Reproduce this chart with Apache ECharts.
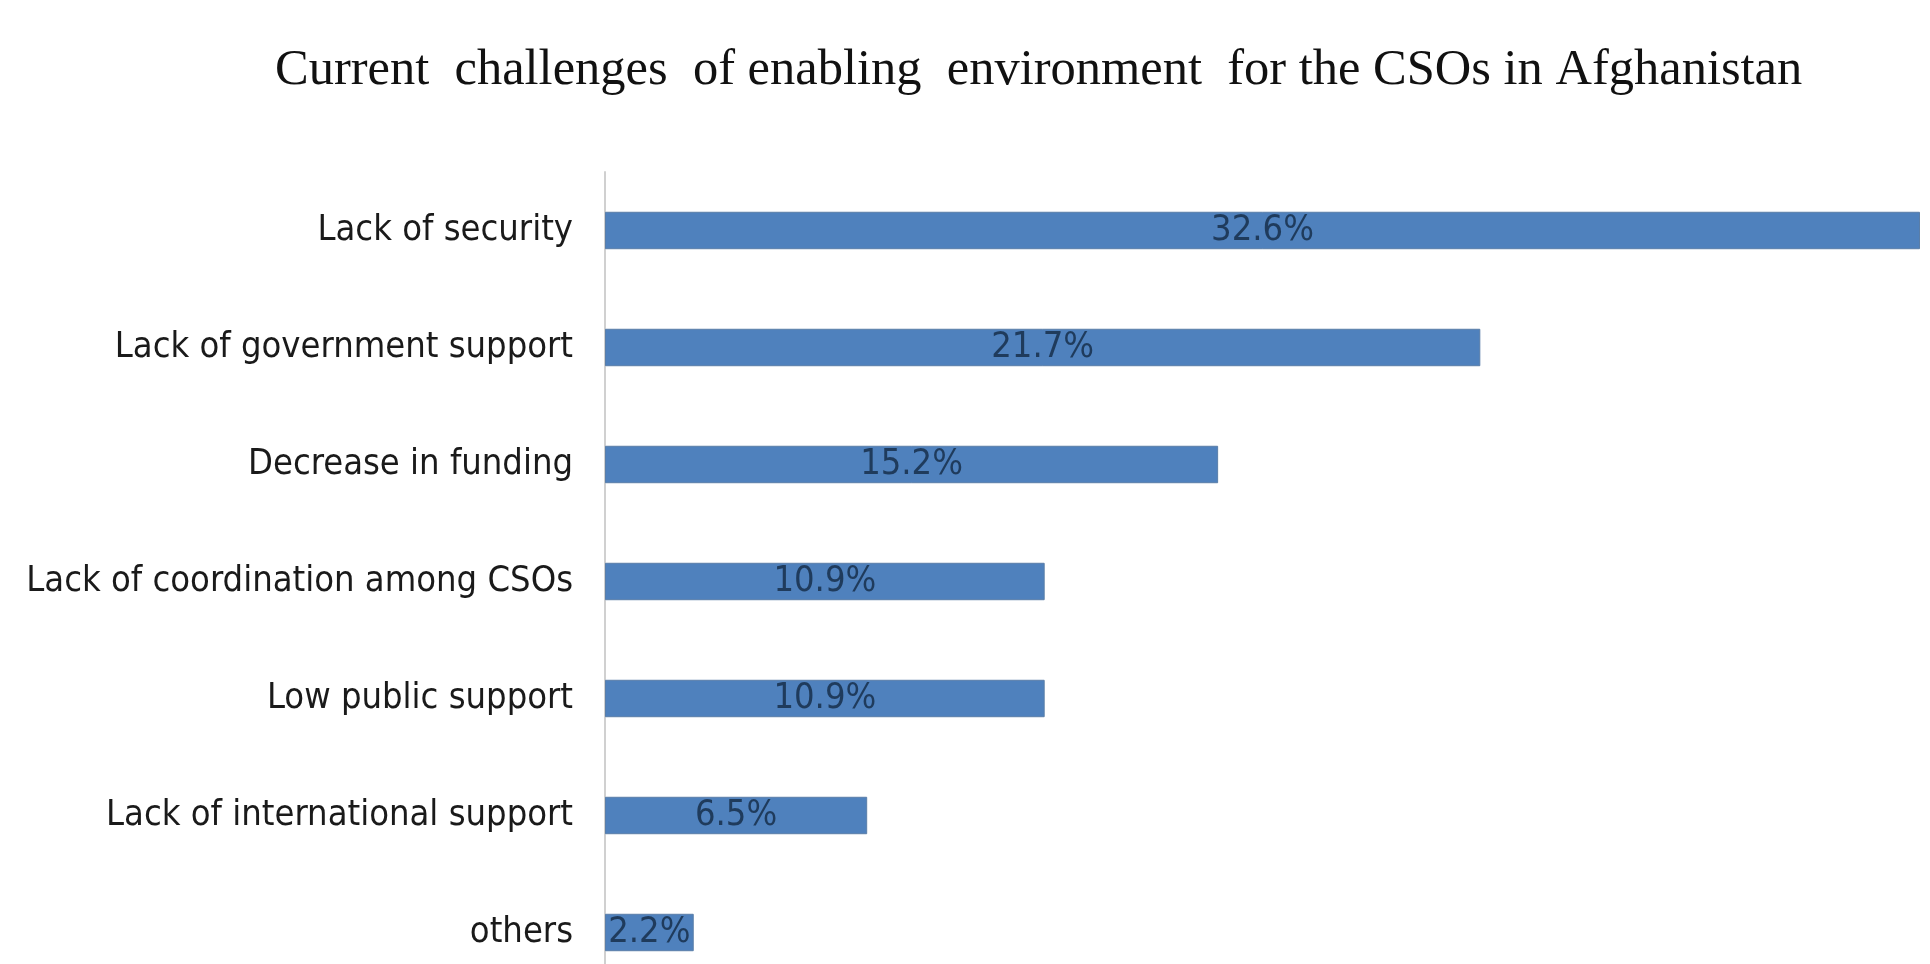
<!DOCTYPE html>
<html>
<head>
<meta charset="utf-8">
<script src="https://cdn.jsdelivr.net/npm/echarts@6/dist/echarts.min.js"></script>
<style>html,body{margin:0;padding:0;background:#fff;overflow:hidden;width:1930px;height:964px}#chart{width:1930px;height:991px}</style>
</head>
<body>
<div id="chart"></div>
<script>
const titleText = 'Current  challenges  of enabling  environment  for the CSOs in Afghanistan';
const categories = ['Lack of security','Lack of government support','Decrease in funding','Lack of coordination among CSOs','Low public support','Lack of international support','others'];
const values = [32.6, 21.7, 15.2, 10.9, 10.9, 6.5, 2.2];

const chart = echarts.init(document.getElementById('chart'));
chart.setOption({
  backgroundColor: '#ffffff',
  animation: false,
  title: {
    text: titleText,
    left: 270,
    top: 40,
    textStyle: {fontFamily: '"Liberation Serif", "DejaVu Serif", serif', fontWeight: 'normal', fontSize: 50.5, color: '#111'}
  },
  grid: {left: 605, top: 172, right: 10, bottom: 0, containLabel: false},
  xAxis: {type: 'value', min: 0, max: 32.6, show: false},
  yAxis: {
    type: 'category', data: categories, inverse: true,
    axisLine: {show: true, lineStyle: {color: '#d0d0d0', width: 2}},
    axisTick: {show: false},
    axisLabel: {margin: 32, color: '#1a1a1a', fontSize: 36, fontFamily: '"Liberation Sans Narrow", "DejaVu Sans Condensed", "Roboto Condensed", "Liberation Sans", sans-serif'}
  },
  series: [{
    type: 'bar', data: values, barCategoryGap: '68%',
    itemStyle: {color: '#4f81bd', borderColor: '#5a7ea8', borderWidth: 1},
    label: {show: true, position: 'inside', formatter: p => p.value.toFixed(1) + '%', color: '#1f3b5c', fontSize: 36,
      fontFamily: '"Liberation Sans Narrow", "DejaVu Sans Condensed", "Roboto Condensed", "Liberation Sans", sans-serif'}
  }]
});
</script>
</body>
</html>
